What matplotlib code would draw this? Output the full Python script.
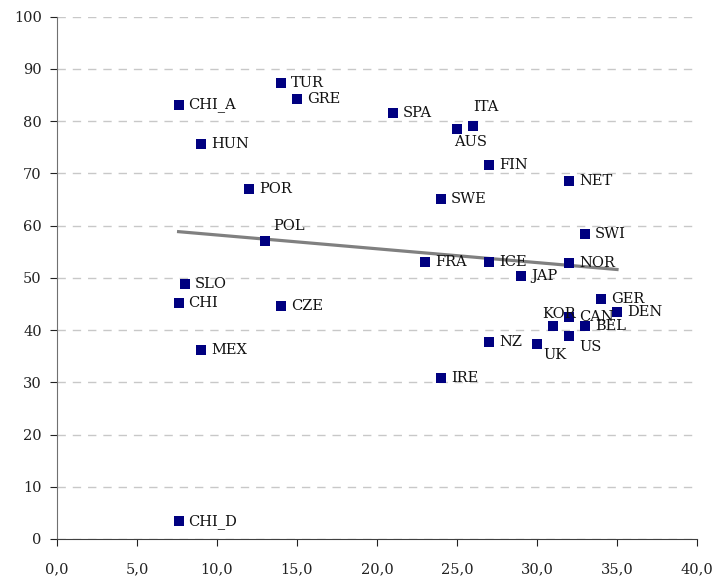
import matplotlib
matplotlib.use("Agg")
import matplotlib.pyplot as plt
import numpy as np

# country codes and values
countries = ["CHI_A", "HUN", "POR", "TUR", "GRE", "POL", "SLO", "CHI", "CZE", "MEX",
             "CHI_D", "SPA", "AUS", "ITA", "FIN", "NET", "SWE", "FRA", "ICE", "NOR",
             "JAP", "GER", "DEN", "CAN", "KOR", "BEL", "US", "UK", "NZ", "IRE", "SWI"]
x_vals = [7.6, 9, 12, 14, 15, 13, 8, 7.6, 14, 9,
          7.6, 21, 25, 26, 27, 32, 24, 23, 27, 32,
          29, 34, 35, 32, 31, 33, 32, 30, 27, 24, 33]
y_vals = [83.1, 75.7, 67.0, 87.4, 84.2, 57.1, 48.9, 45.2, 44.6, 36.2,
          3.4, 81.5, 78.5, 79.0, 71.6, 68.6, 65.1, 53.0, 53.0, 52.8,
          50.4, 46.0, 43.5, 42.6, 40.8, 40.8, 38.8, 37.3, 37.7, 30.8, 58.4]

# label placement in pixels (dx, dy, ha, va); default is right of the marker
offsets = {
    "ITA": (0, 12, "left", "bottom"),
    "AUS": (-3, -6, "left", "top"),
    "POL": (8, 8, "left", "bottom"),
    "KOR": (-11, 5, "left", "bottom"),
    "US": (10, -4, "left", "top"),
    "UK": (6, -4, "left", "top"),
}

plt.rcParams["font.family"] = ["DejaVu Serif"]
fig = plt.figure(figsize=(7.15, 5.84), dpi=100)
ax = fig.add_axes([57 / 715, 1 - 539 / 584, 640 / 715, (539 - 16.7) / 584])

ax.scatter(x_vals, y_vals, marker="s", s=52, color="#000080", zorder=3, linewidths=0)

# linear trend line over the data range
coef = np.polyfit(x_vals, y_vals, 1)
xs = np.array([min(x_vals), max(x_vals)])
ax.plot(xs, np.polyval(coef, xs), color="#808080", lw=2.3, zorder=2)

for name, x, y in zip(countries, x_vals, y_vals):
    dx, dy, ha, va = offsets.get(name, (10, 0, "left", "center"))
    ax.annotate(name, (x, y), xytext=(dx * 0.72, dy * 0.72), textcoords="offset points",
                ha=ha, va=va, fontsize=10.5, color="#111111", zorder=4)

ax.set_xlim(0, 40)
ax.set_ylim(0, 100)
ax.set_xticks(np.arange(0, 41, 5))
ax.set_xticklabels([f"{v:.1f}".replace(".", ",") for v in np.arange(0, 41, 5)])
ax.set_yticks(np.arange(0, 101, 10))
ax.yaxis.grid(True, linestyle=(0, (6, 5)), color="#c8c8c8", lw=1)
ax.set_axisbelow(True)
for s in ["top", "right"]:
    ax.spines[s].set_visible(False)
ax.spines["left"].set_color("#707070")
ax.spines["bottom"].set_color("#404040")
ax.tick_params(axis="both", direction="out", length=5, labelsize=10.5, colors="#222222")
ax.tick_params(axis="x", pad=12)
ax.tick_params(axis="y", pad=6)

fig.savefig("out.png", dpi=100)
